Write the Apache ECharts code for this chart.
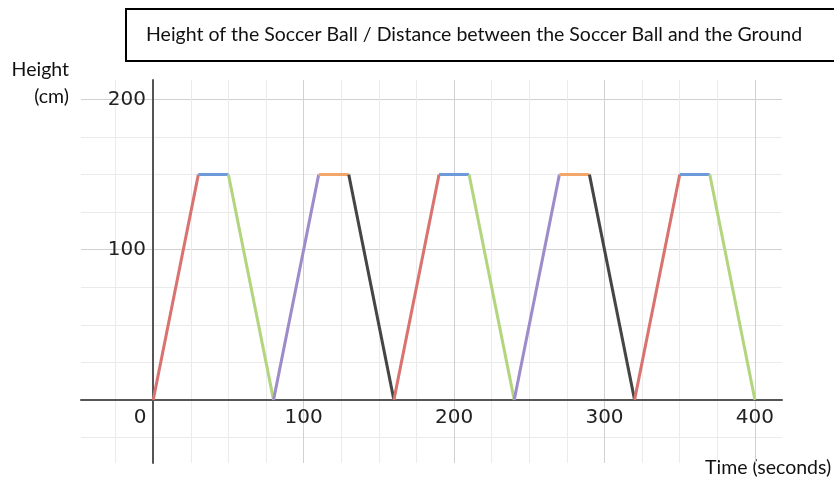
<!DOCTYPE html>
<html lang="en">
<head>
    <meta charset="utf-8">
    <title>Soccer Ball</title>
    <script src="https://cdn.jsdelivr.net/npm/echarts@6/dist/echarts.min.js"></script>
</head>
<body style="margin:0;background:#fff;">

    <div id="main" style="width:834px;height:479px;"></div>

<script type="text/javascript">

    // time (s) and height (cm) at each turning point of the ball
    var times = [0, 30, 50, 80, 110, 130, 160, 190, 210, 240, 270, 290, 320, 350, 370, 400];
    var heights = [0, 150, 150, 0, 150, 150, 0, 150, 150, 0, 150, 150, 0, 150, 150, 0];
    // one colour per segment between two points
    var segColors = ['#d9736f', '#6f9ad9', '#b3d57e', '#9e8bca', '#f4a76a', '#454545',
                     '#d9736f', '#6f9ad9', '#b3d57e', '#9e8bca', '#f4a76a', '#454545',
                     '#d9736f', '#6f9ad9', '#b3d57e'];
    var xTickLabels = [0, 100, 200, 300, 400];
    var yTickLabels = [100, 200];

    var myChart = echarts.init(document.getElementById('main'));

    var series = [];
    for (var i = 0; i < times.length - 1; i++) {
        series.push({
            type: 'line',
            xAxisIndex: 1,
            yAxisIndex: 1,
            symbol: 'none',
            silent: true,
            lineStyle: {color: segColors[i], width: 3},
            itemStyle: {color: segColors[i]},
            data: [[times[i], heights[i]], [times[i + 1], heights[i + 1]]]
        });
    }

    var tickFont = {fontFamily: 'DejaVu Sans', fontSize: 20, color: '#222'};
    var textFont = '19.5px Lato';

    option = {
        animation: false,
        backgroundColor: '#ffffff',
        title: {
            text: 'Height of the Soccer Ball / Distance between the Soccer Ball and the Ground',
            left: 126,
            top: 9,
            padding: [15, 80, 15, 20],
            borderColor: '#000',
            borderWidth: 2,
            textStyle: {fontFamily: 'Lato', fontSize: 19.5, fontWeight: 'normal', color: '#111', lineHeight: 22}
        },
        graphic: [
            {type: 'text', right: 765, top: 59,
             style: {text: 'Height', font: textFont, fill: '#111', lineHeight: 22}},
            {type: 'text', right: 765, top: 86,
             style: {text: '(cm)', font: textFont, fill: '#111', lineHeight: 22}},
            {type: 'text', left: 705, top: 458,
             style: {text: 'Time (seconds)', font: textFont, fill: '#111', lineHeight: 20}}
        ],
        grid: {left: 81, right: 52, top: 80, bottom: 16, outerBoundsMode: 'none', containLabel: false},
        xAxis: [{
            // minor grid + tick labels (moved up to the zero line)
            type: 'value', min: -48, max: 418, minInterval: 25, maxInterval: 25,
            position: 'bottom', offset: -63,
            axisLine: {show: false, onZero: false},
            axisTick: {show: false},
            axisLabel: {
                margin: 8,
                showMinLabel: true, showMaxLabel: true,
                formatter: function (v) {
                    if (v === 0) return '{o|0}';
                    return xTickLabels.indexOf(v) >= 0 ? String(v) : '';
                },
                rich: {o: {fontFamily: 'DejaVu Sans', fontSize: 20, color: '#222', padding: [0, 26, 0, 0]}},
                fontFamily: tickFont.fontFamily, fontSize: tickFont.fontSize, color: tickFont.color
            },
            splitLine: {show: true, showMinLine: false, showMaxLine: false, lineStyle: {color: '#ebebeb', width: 1}}
        }, {
            // major grid + axis line at zero
            type: 'value', min: -48, max: 418, minInterval: 100, maxInterval: 100,
            position: 'bottom',
            axisLine: {onZero: true, onZeroAxisIndex: 1, lineStyle: {color: '#555', width: 2}},
            axisTick: {show: false},
            axisLabel: {show: false},
            splitLine: {show: true, showMinLine: false, showMaxLine: false, lineStyle: {color: '#d0d0d0', width: 1}}
        }],
        yAxis: [{
            type: 'value', min: -42, max: 213, minInterval: 25, maxInterval: 25,
            position: 'left', offset: -72,
            axisLine: {show: false, onZero: false},
            axisTick: {show: false},
            axisLabel: {
                margin: 7,
                formatter: function (v) {
                    return yTickLabels.indexOf(v) >= 0 ? String(v) : '';
                },
                fontFamily: tickFont.fontFamily, fontSize: tickFont.fontSize, color: tickFont.color
            },
            splitLine: {show: true, showMinLine: false, showMaxLine: false, lineStyle: {color: '#ebebeb', width: 1}}
        }, {
            type: 'value', min: -42, max: 213, minInterval: 100, maxInterval: 100,
            position: 'left',
            axisLine: {show: true, onZero: true, onZeroAxisIndex: 1, lineStyle: {color: '#555', width: 2}},
            axisTick: {show: false},
            axisLabel: {show: false},
            splitLine: {show: true, showMinLine: false, showMaxLine: false, lineStyle: {color: '#d0d0d0', width: 1}}
        }],
        series: series
    };

    myChart.setOption(option);

</script>
</body>
</html>
